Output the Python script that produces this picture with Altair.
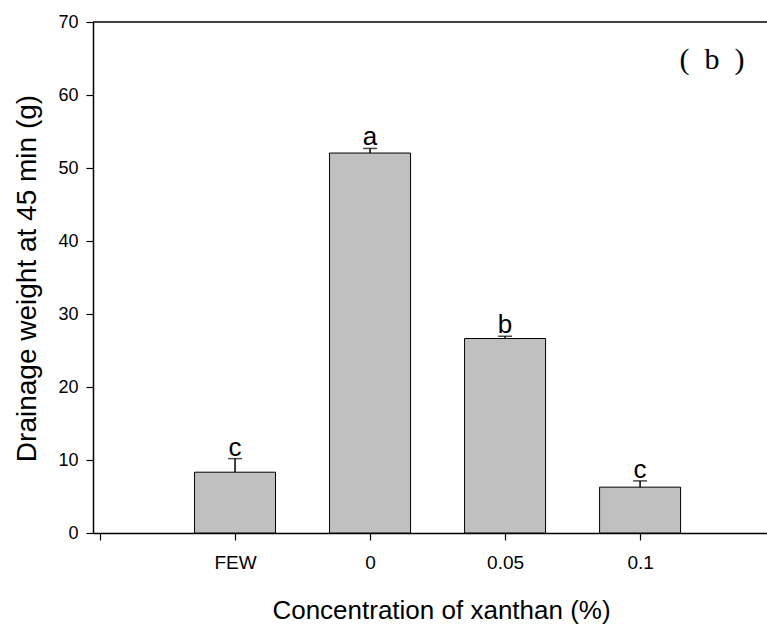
import altair as alt
import pandas as pd

categories = ["FEW", "0", "0.05", "0.1"]
positions = [1, 2, 3, 4]
means = [8.33, 52.05, 26.64, 6.28]
errors = [1.86, 0.63, 0.31, 0.86]
letters = ["c", "a", "b", "c"]
tick_labels = [""] + categories
y_ticks = [0, 10, 20, 30, 40, 50, 60, 70]

df = pd.DataFrame({
    "cat": categories,
    "pos": positions,
    "mean": means,
    "err": errors,
    "letter": letters,
})
df["upper"] = df["mean"] + df["err"]

label_expr = "[" + ",".join("'" + t + "'" for t in tick_labels) + "][datum.value]"

x_enc = alt.X(
    "pos:Q",
    scale=alt.Scale(domain=[-0.052, 4.94], nice=False, zero=False, padding=0),
    axis=alt.Axis(
        values=[0, 1, 2, 3, 4],
        labelExpr=label_expr,
        grid=False,
        tickSize=7,
        tickWidth=1.2,
        tickColor="black",
        domainColor="black",
        domainWidth=1.5,
        labelFont="Liberation Sans",
        labelFontSize=19,
        labelColor="black",
        labelPadding=13,
        title="Concentration of xanthan (%)",
        titleFont="Liberation Sans",
        titleFontSize=26,
        titleFontWeight="normal",
        titleColor="black",
        titleX=348,
        titleY=85,
        titleAlign="center",
        titleBaseline="alphabetic",
        titleAnchor="start",
    ),
)

y_enc = alt.Y(
    "mean:Q",
    scale=alt.Scale(domain=[0, 70], nice=False, padding=0),
    axis=alt.Axis(
        values=y_ticks,
        grid=False,
        tickSize=7,
        tickWidth=1.2,
        tickColor="black",
        domainColor="black",
        domainWidth=1.5,
        labelFont="Liberation Sans",
        labelFontSize=18,
        labelColor="black",
        labelPadding=8,
        title="Drainage weight at 45 min (g)",
        titleFont="Liberation Sans",
        titleFontSize=28,
        titleFontWeight="normal",
        titleColor="black",
        titleAngle=270,
        titleX=-58,
        titleY=256,
        titleAlign="center",
        titleBaseline="alphabetic",
    ),
)

base = alt.Chart(df)

bars = base.mark_bar(width=81, color="#c0c0c0", stroke="black", strokeWidth=1).encode(
    x=x_enc, y=y_enc
)

err_line = base.mark_rule(color="black", strokeWidth=1.5).encode(
    x=x_enc, y=alt.Y("mean:Q"), y2="upper:Q"
)

err_cap = base.mark_tick(orient="horizontal", size=14, thickness=1.5, color="black").encode(
    x=x_enc, y=alt.Y("upper:Q")
)

letter_text = base.mark_text(
    font="Liberation Sans",
    fontSize=26,
    baseline="alphabetic",
    align="center",
    dy=-3,
    color="black",
).encode(x=x_enc, y=alt.Y("upper:Q"), text="letter:N")

top_line = alt.Chart(pd.DataFrame({"top": [70]})).mark_rule(
    color="black", strokeWidth=1.5
).encode(y=alt.Y("top:Q"))

panel = alt.Chart(pd.DataFrame({"lab": ["(\u2002b\u2002)"]})).mark_text(
    font="Liberation Serif",
    fontSize=30,
    align="center",
    baseline="alphabetic",
    color="black",
).encode(x=alt.value(619), y=alt.value(47), text="lab:N")

chart = (
    alt.layer(bars, err_line, err_cap, letter_text, top_line, panel)
    .properties(
        width=674,
        height=511,
        autosize=alt.AutoSizeParams(type="none"),
        padding={"left": 93, "top": 22, "right": 0, "bottom": 93},
        background="white",
    )
    .configure_view(stroke=None)
)

chart.save("out.html", embed_options={"renderer": "svg", "actions": False})
